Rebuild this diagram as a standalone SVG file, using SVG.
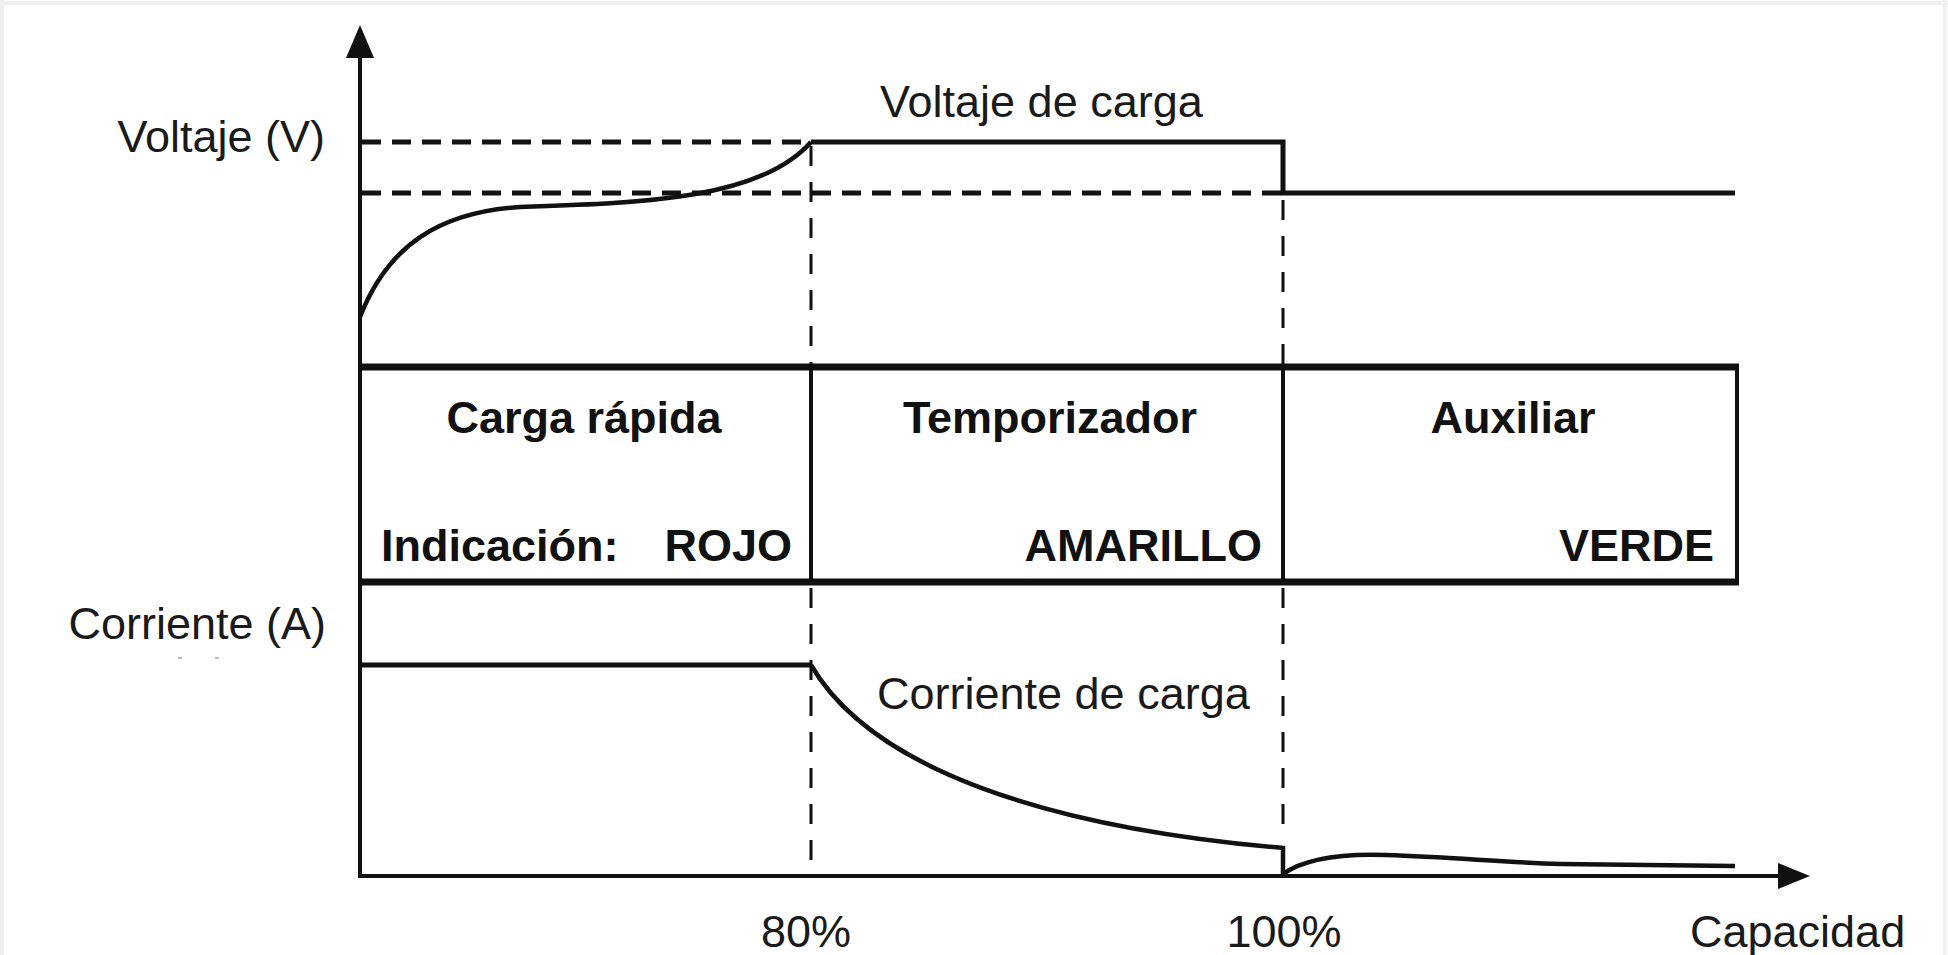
<svg xmlns="http://www.w3.org/2000/svg" width="1948" height="955" viewBox="0 0 1948 955">
<defs>
<style>
.lbl{font-family:"Liberation Sans",Arial,sans-serif;font-size:45px;fill:#1a1a1a}
.b{font-family:"Liberation Sans",Arial,sans-serif;font-size:45px;font-weight:bold;fill:#111}
.solid{fill:none;stroke:#111;stroke-width:5;stroke-linejoin:miter}
.curve{fill:none;stroke:#111;stroke-width:4.5;stroke-linecap:butt}
.hdash{fill:none;stroke:#111;stroke-width:5;stroke-dasharray:19 11}
.vdash{fill:none;stroke:#111;stroke-width:3;stroke-dasharray:20 16}
.axis{fill:none;stroke:#111;stroke-width:4}
</style>
</defs>
<rect width="1948" height="955" fill="#fff"/>
<g id="frame" fill="none" stroke="#f0f0f0" stroke-width="4">
<line x1="0" y1="3" x2="1948" y2="3"/>
<line x1="2" y1="0" x2="2" y2="955"/>
<line x1="1945" y1="0" x2="1945" y2="955"/>
</g>
<g id="axes">
<line class="axis" x1="360" y1="877" x2="360" y2="50"/>
<path d="M360,25 L374,58 L346,58 Z" fill="#111"/>
<line class="axis" x1="358" y1="876" x2="1782" y2="876"/>
<path d="M1810,876 L1778,863 L1778,889 Z" fill="#111"/>
</g>
<g id="guides">
<line class="hdash" x1="362" y1="142" x2="811" y2="142"/>
<line class="hdash" x1="362" y1="193" x2="1283" y2="193"/>
<line class="vdash" x1="811" y1="146" x2="811" y2="365"/>
<line class="vdash" x1="1283" y1="200" x2="1283" y2="365"/>
<line class="vdash" x1="811" y1="588" x2="811" y2="872"/>
<line class="vdash" x1="1283" y1="588" x2="1283" y2="836"/>
</g>
<g id="voltage">
<path class="curve" d="M360,317 C388,245 440,212 520,207 C640,203 760,200 811,142"/>
<path class="solid" d="M811,142 L1283,142 L1283,193 L1735,193"/>
</g>
<g id="phases">
<g id="phase-box">
<line x1="358" y1="367" x2="1739" y2="367" stroke="#111" stroke-width="7"/>
<line x1="358" y1="582" x2="1739" y2="582" stroke="#111" stroke-width="7"/>
<line x1="1737" y1="364" x2="1737" y2="585" stroke="#111" stroke-width="4"/>
<line x1="811" y1="364" x2="811" y2="585" stroke="#111" stroke-width="4"/>
<line x1="1283" y1="364" x2="1283" y2="585" stroke="#111" stroke-width="4"/>
</g>
<g id="phase-rapida">
<text class="b" x="584" y="433" text-anchor="middle">Carga rápida</text>
<text class="b" x="381" y="561">Indicación:</text>
<text class="b" x="792" y="561" text-anchor="end">ROJO</text>
</g>
<g id="phase-temporizador">
<text class="b" x="1050" y="433" text-anchor="middle">Temporizador</text>
<text class="b" x="1262" y="561" text-anchor="end">AMARILLO</text>
</g>
<g id="phase-auxiliar">
<text class="b" x="1513" y="433" text-anchor="middle">Auxiliar</text>
<text class="b" x="1714" y="561" text-anchor="end">VERDE</text>
</g>
</g>
<g id="current">
<path class="solid" d="M360,665 L811,665"/>
<path class="curve" d="M811,665 C872,770 1050,828 1283,848 L1283,874 C1300,862 1330,853 1386,855 C1450,857 1500,862 1560,864 L1735,866"/>
</g>
<g id="labels">
<text class="lbl" x="325" y="152" text-anchor="end">Voltaje (V)</text>
<text class="lbl" x="880" y="117">Voltaje de carga</text>
<text class="lbl" x="326" y="639" text-anchor="end">Corriente (A)</text>
<text class="lbl" x="877" y="709">Corriente de carga</text>
<text class="lbl" x="806" y="947" text-anchor="middle">80%</text>
<text class="lbl" x="1284" y="947" text-anchor="middle">100%</text>
<text class="lbl" x="1690" y="947">Capacidad</text>
<rect x="178" y="657" width="4" height="2" fill="#bbb"/>
<rect x="215" y="657" width="4" height="2" fill="#bbb"/>
</g>
</svg>
